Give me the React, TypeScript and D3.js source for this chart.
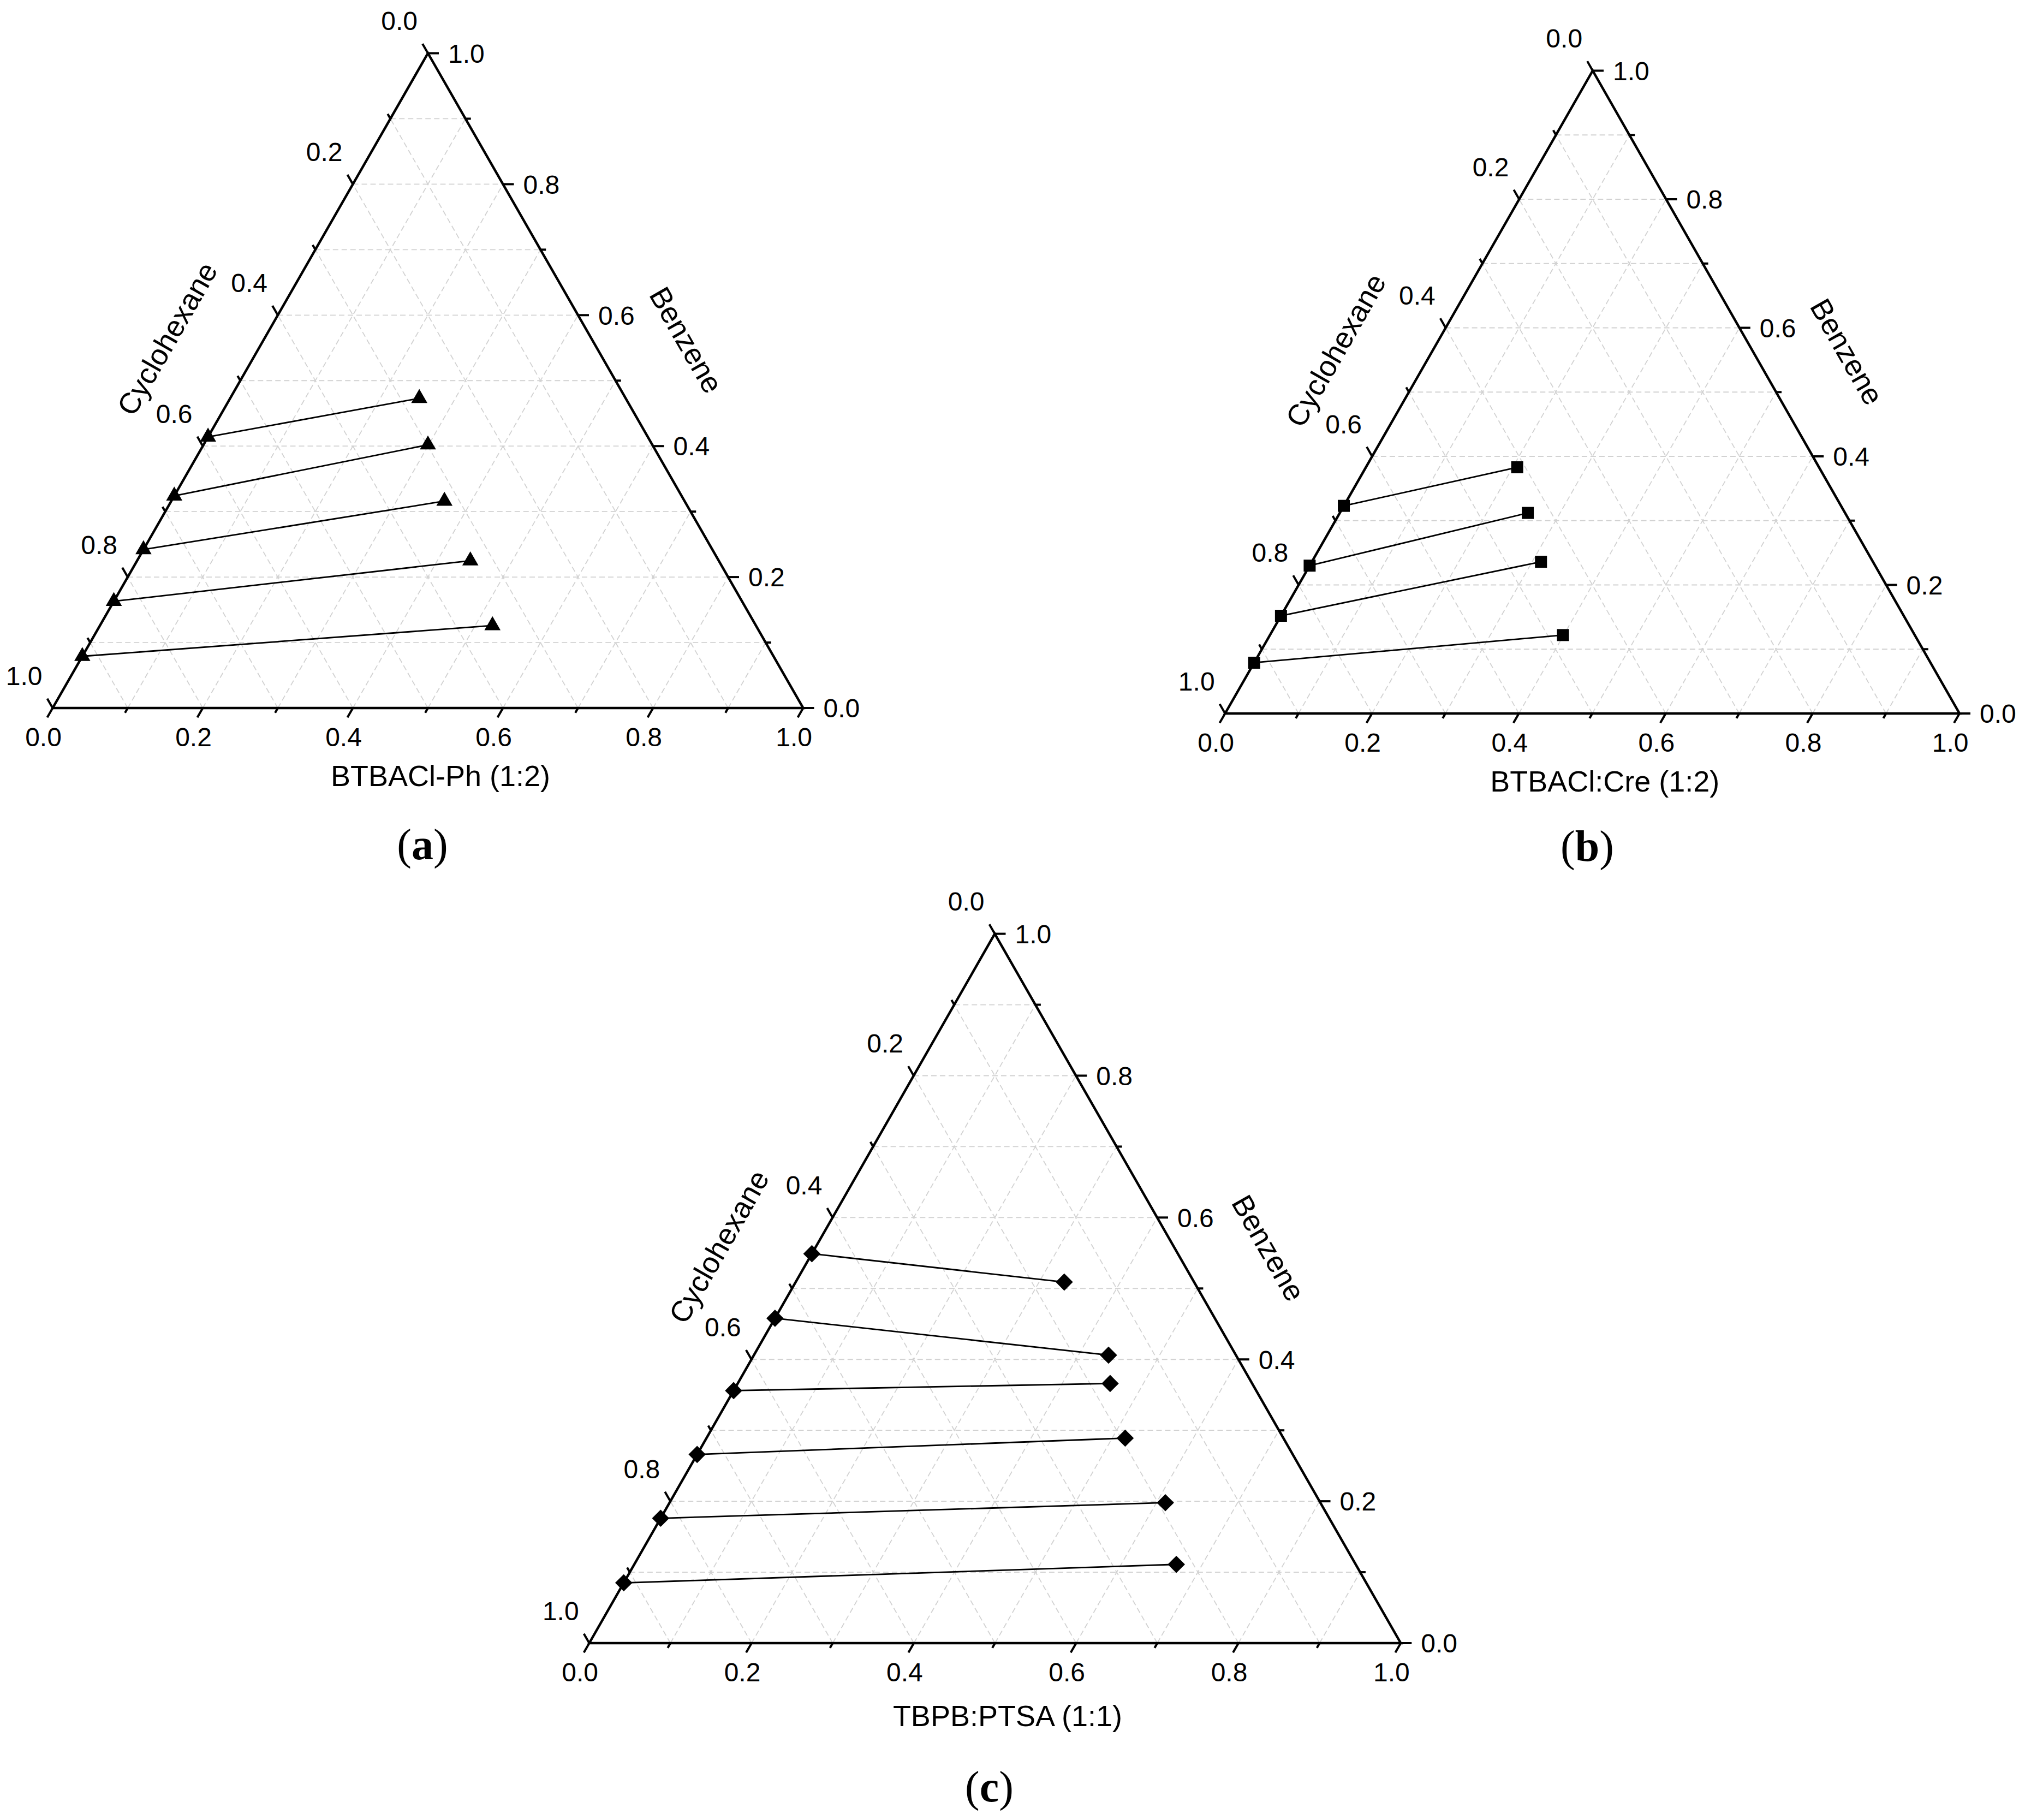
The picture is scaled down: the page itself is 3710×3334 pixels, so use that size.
import React from 'react';
import * as d3 from 'd3';

const W = 3710;
const H = 3334;

// ---- Data (mass fractions) ----
// Panel (a): BTBACl-Ph (1:2)
const aRaffinateBenzene = [0.414, 0.324, 0.242, 0.163, 0.079];
const aRaffinateDES = [0, 0, 0, 0, 0];
const aExtractBenzene = [0.473, 0.402, 0.316, 0.225, 0.126];
const aExtractDES = [0.252, 0.299, 0.364, 0.444, 0.523];

// Panel (b): BTBACl:Cre (1:2)
const bRaffinateBenzene = [0.323, 0.23, 0.152, 0.079];
const bRaffinateDES = [0, 0, 0, 0];
const bExtractBenzene = [0.383, 0.312, 0.236, 0.122];
const bExtractDES = [0.206, 0.256, 0.312, 0.399];

// Panel (c): TBPB:PTSA (1:1)
const cRaffinateBenzene = [0.549, 0.458, 0.356, 0.266, 0.176, 0.085];
const cRaffinateDES = [0, 0, 0, 0, 0, 0];
const cExtractBenzene = [0.509, 0.406, 0.366, 0.289, 0.198, 0.111];
const cExtractDES = [0.331, 0.437, 0.459, 0.516, 0.611, 0.668];

const tickValues = [0, 0.1, 0.2, 0.3, 0.4, 0.5, 0.6, 0.7, 0.8, 0.9, 1.0];
const gridValues = [0.1, 0.2, 0.3, 0.4, 0.5, 0.6, 0.7, 0.8, 0.9];
const leftTitle = 'Cyclohexane';
const rightTitle = 'Benzene';

type Pt = [number, number];

const panels = [
  {
    letter: 'a',
    title: 'BTBACl-Ph (1:2)',
    marker: 'triangle',
    bl: [96.5, 1297] as Pt,
    top: [784, 97.5] as Pt,
    br: [1471.5, 1297] as Pt,
    titleDy: 143,
    letterDy: 277,
    raffB: aRaffinateBenzene,
    raffA: aRaffinateDES,
    extB: aExtractBenzene,
    extA: aExtractDES,
  },
  {
    letter: 'b',
    title: 'BTBACl:Cre (1:2)',
    marker: 'square',
    bl: [2244.5, 1307] as Pt,
    top: [2918, 129.5] as Pt,
    br: [3590, 1307] as Pt,
    titleDy: 143,
    letterDy: 270,
    raffB: bRaffinateBenzene,
    raffA: bRaffinateDES,
    extB: bExtractBenzene,
    extA: bExtractDES,
  },
  {
    letter: 'c',
    title: 'TBPB:PTSA (1:1)',
    marker: 'diamond',
    bl: [1079.6, 3010] as Pt,
    top: [1822.5, 1710.6] as Pt,
    br: [2566.3, 3010] as Pt,
    titleDy: 152,
    letterDy: 290,
    raffB: cRaffinateBenzene,
    raffA: cRaffinateDES,
    extB: cExtractBenzene,
    extA: cExtractDES,
  },
];

const FONT = "'Liberation Sans', Arial, sans-serif";
const SERIF = "'Liberation Serif', 'Times New Roman', serif";
const fmt = d3.format('.1f');

function norm(v: Pt): Pt {
  const l = Math.hypot(v[0], v[1]);
  return [v[0] / l, v[1] / l];
}

function Panel({ p }: { p: (typeof panels)[number] }) {
  const { bl, top, br } = p;
  // barycentric mapping with d3 scales: A = DES (bottom), B = benzene (right)
  const xA = d3.scaleLinear().domain([0, 1]).range([0, br[0] - bl[0]]);
  const xB = d3.scaleLinear().domain([0, 1]).range([0, top[0] - bl[0]]);
  const yB = d3.scaleLinear().domain([0, 1]).range([bl[1], top[1]]);
  const pos = (a: number, b: number): Pt => [bl[0] + xA(a) + xB(b), yB(b)];

  const dirLeftDown = norm([bl[0] - top[0], bl[1] - top[1]]); // bottom ticks
  const dirRightUp = norm([top[0] - br[0], top[1] - br[1]]); // left ticks
  const majLen = 20;
  const minLen = 10;
  const isMajor = (v: number) => Math.round(v * 10) % 2 === 0;

  const gridLines: [Pt, Pt][] = [];
  gridValues.forEach((v) => {
    gridLines.push([pos(0, v), pos(1 - v, v)]); // constant benzene
    gridLines.push([pos(v, 0), pos(v, 1 - v)]); // constant DES
    gridLines.push([pos(1 - v, 0), pos(0, 1 - v)]); // constant cyclohexane
  });

  const line = d3.line<Pt>();
  const triPath = d3.symbol(d3.symbolTriangle, 380)()!;
  const sqPath = d3.symbol(d3.symbolSquare, 484)()!;
  const diaPath = d3.symbol(d3.symbolSquare, 500)()!;

  const marker = (pt: Pt, key: string) => {
    if (p.marker === 'triangle')
      return <path key={key} d={triPath} transform={`translate(${pt[0]},${pt[1]})`} fill="#000" />;
    if (p.marker === 'square')
      return <path key={key} d={sqPath} transform={`translate(${pt[0]},${pt[1]})`} fill="#000" />;
    return <path key={key} d={diaPath} transform={`translate(${pt[0]},${pt[1]}) rotate(45)`} fill="#000" />;
  };

  const midL: Pt = [(bl[0] + top[0]) / 2, (bl[1] + top[1]) / 2];
  const midR: Pt = [(br[0] + top[0]) / 2, (br[1] + top[1]) / 2];
  const edgeL = norm([top[0] - bl[0], top[1] - bl[1]]);
  const outL: Pt = [edgeL[1], -edgeL[0]];
  const edgeR = norm([br[0] - top[0], br[1] - top[1]]);
  const outR: Pt = [edgeR[1], -edgeR[0]];
  const angL = (Math.atan2(edgeL[1], edgeL[0]) * 180) / Math.PI;
  const angR = (Math.atan2(edgeR[1], edgeR[0]) * 180) / Math.PI;
  const offL = 155;
  const offR = 150;
  const tL: Pt = [midL[0] + outL[0] * offL, midL[1] + outL[1] * offL];
  const tR: Pt = [midR[0] + outR[0] * offR, midR[1] + outR[1] * offR];

  return (
    <g>
      {/* grid */}
      <g stroke="#d2d2d2" strokeWidth={1.8} strokeDasharray="10,6" fill="none">
        {gridLines.map((g, i) => (
          <line key={i} x1={g[0][0]} y1={g[0][1]} x2={g[1][0]} y2={g[1][1]} />
        ))}
      </g>
      {/* ticks */}
      <g stroke="#000" strokeWidth={4} strokeLinecap="butt">
        {tickValues.map((v, i) => {
          const len = isMajor(v) ? majLen : minLen;
          const pb = pos(v, 0);
          const pr = pos(1 - v, v);
          const pl = pos(0, 1 - v);
          return (
            <g key={i}>
              <line x1={pb[0]} y1={pb[1]} x2={pb[0] + dirLeftDown[0] * len} y2={pb[1] + dirLeftDown[1] * len} />
              <line x1={pr[0]} y1={pr[1]} x2={pr[0] + len} y2={pr[1]} />
              <line x1={pl[0]} y1={pl[1]} x2={pl[0] + dirRightUp[0] * len} y2={pl[1] + dirRightUp[1] * len} />
            </g>
          );
        })}
      </g>
      {/* axes */}
      <path
        d={line([bl, br, top])! + 'Z'}
        fill="none"
        stroke="#000"
        strokeWidth={4.5}
        strokeLinejoin="miter"
      />
      {/* tick labels */}
      <g fontFamily={FONT} fontSize={48} fill="#000">
        {tickValues.filter(isMajor).map((v, i) => {
          const pb = pos(v, 0);
          const pr = pos(1 - v, v);
          const pl = pos(0, 1 - v);
          const eb: Pt = [pb[0] + dirLeftDown[0] * majLen, pb[1] + dirLeftDown[1] * majLen];
          const el: Pt = [pl[0] + dirRightUp[0] * majLen, pl[1] + dirRightUp[1] * majLen];
          return (
            <g key={i}>
              <text x={eb[0] - 7} y={pb[1] + 70} textAnchor="middle">
                {fmt(v)}
              </text>
              <text x={pr[0] + majLen + 17} y={pr[1]} dy="0.36em" textAnchor="start">
                {fmt(v)}
              </text>
              <text x={el[0] - 9} y={el[1] - 25} textAnchor="end">
                {fmt(v)}
              </text>
            </g>
          );
        })}
      </g>
      {/* axis titles */}
      <g fontFamily={FONT} fontSize={54} fill="#000">
        <text x={(bl[0] + br[0]) / 2 + 23} y={bl[1] + p.titleDy} textAnchor="middle">
          {p.title}
        </text>
        <text
          transform={`translate(${tL[0]},${tL[1]}) rotate(${angL})`}
          textAnchor="middle"
          dy="0.36em"
        >
          {leftTitle}
        </text>
        <text
          transform={`translate(${tR[0]},${tR[1]}) rotate(${angR})`}
          textAnchor="middle"
          dy="0.36em"
        >
          {rightTitle}
        </text>
      </g>
      {/* tie lines */}
      <g stroke="#000" strokeWidth={2.8} fill="none">
        {p.raffB.map((b, i) => (
          <path key={i} d={line([pos(p.raffA[i], b), pos(p.extA[i], p.extB[i])])!} />
        ))}
      </g>
      {p.raffB.map((b, i) => marker(pos(p.raffA[i], b), 'r' + i))}
      {p.extB.map((b, i) => marker(pos(p.extA[i], b), 'e' + i))}
      {/* panel letter */}
      <text x={top[0] - 10} y={bl[1] + p.letterDy} textAnchor="middle" fontFamily={SERIF} fontSize={80} fill="#000">
        (<tspan fontWeight="bold">{p.letter}</tspan>)
      </text>
    </g>
  );
}

export default function App() {
  return (
    <svg
      width={W}
      height={H}
      viewBox={`0 0 ${W} ${H}`}
      style={{ position: 'absolute', left: 0, top: 0, display: 'block', background: '#fff' }}
    >
      <rect width={W} height={H} fill="#fff" />
      {panels.map((p) => (
        <Panel key={p.letter} p={p} />
      ))}
    </svg>
  );
}
